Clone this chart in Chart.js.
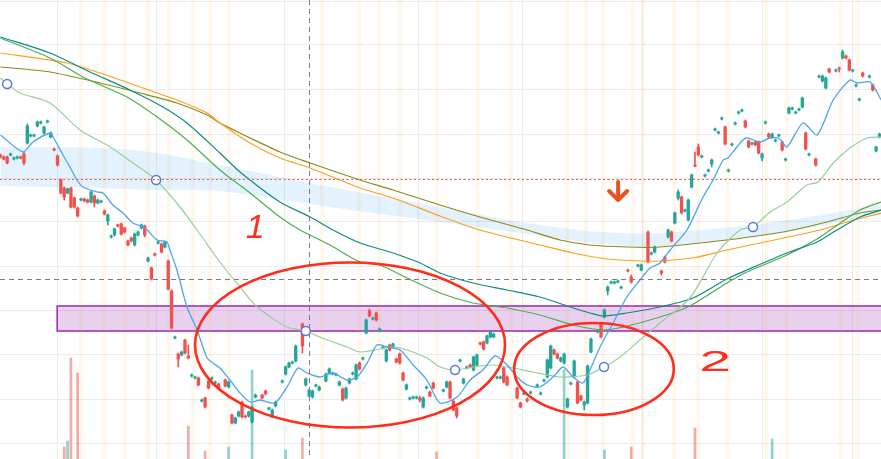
<!DOCTYPE html>
<html>
<head>
<meta charset="utf-8">
<script src="https://cdn.jsdelivr.net/npm/chart.js@4.4.0/dist/chart.umd.min.js"></script>
<style>
  html, body { margin: 0; padding: 0; background: #fff; }
  #wrap { width: 881px; height: 459px; position: relative; }
</style>
</head>
<body>
<div id="wrap"><canvas id="chart"></canvas></div>
<script>
// candles, one per bar index (null = no candle drawn)
const openP = [
  305,303,303,305,301,302,303,306,317,324,
  324,334,337,327,338,323,311,304,280,272,
  267,272,262,252,260,261,260,258,264,257,
  258,249,239,223,225,235,236,232,219,222,
  215,225,232,234,199,192,206,217,216,213,
  199,169,122,106,105,120,104,84,82,82,
  59,62,79,81,77,76,null,80,73,45,
  37,44,58,44,44,38,63,null,65,69,
  51,43,54,null,78,86,93,97,99,null,
  136,75,64,63,74,70,null,79,87,86,
  85,75,71,62,77,86,81,97,101,127,
  149,141,147,129,112,99,115,113,101,106,
  87,71,61,62,62,62,53,72,68,77,
  null,null,69,73,78,59,52,99,77,92,
  95,90,95,117,118,117,123,123,82,82,
  92,83,null,null,72,57,66,61,67,null,
  74,66,79,83,92,110,106,99,97,53,
  76,83,78,64,55,57,108,null,128,137,
  143,169,177,177,178,172,null,190,183,null,
  194,190,null,228,206,208,null,189,203,223,
  228,237,262,263,249,240,273,295,313,303,
  284,289,296,330,327,341,333,289,315,336,
  347,349,339,319,316,318,318,302,337,326,
  323,319,324,318,300,347,351,347,350,353,
  327,305,null,301,383,379,372,391,null,389,
  392,402,404,400,389,374,360,387,null,383,
  375,309,323
];
const highP = [
  306,304,304,307,303,304,304,308,336,326,
  326,339,339,334,340,328,312,305,281,273,
  272,273,263,253,262,262,261,269,265,261,
  260,250,246,225,232,236,237,233,220,223,
  227,229,236,235,203,193,207,219,217,219,
  200,170,124,107,109,121,115,86,84,83,
  61,63,80,83,79,77,null,81,79,46,
  43,49,59,45,49,54,66,null,66,70,
  53,51,59,null,80,94,98,99,115,null,
  137,82,71,70,76,74,null,87,92,88,
  87,79,72,73,82,88,96,98,103,141,
  151,143,148,132,114,111,116,117,102,107,
  88,76,63,64,64,64,63,74,69,78,
  null,null,71,79,79,60,53,101,82,94,
  96,104,106,118,119,125,129,127,84,84,
  93,84,null,null,73,58,68,62,69,null,
  76,68,81,101,115,111,107,103,107,62,
  78,100,79,65,59,95,122,null,130,138,
  151,174,179,179,180,174,null,191,185,null,
  196,196,null,229,208,214,null,190,204,231,
  229,248,270,264,251,261,286,308,316,305,
  286,291,301,332,329,343,334,291,317,338,
  349,351,340,320,318,319,319,307,339,327,
  327,321,326,319,302,353,353,349,352,363,
  328,307,null,302,385,385,383,392,null,391,
  393,410,405,401,391,376,362,388,null,385,
  376,314,327
];
const lowP = [
  302,300,296,304,300,301,301,295,316,323,
  323,333,336,326,337,322,309,294,266,260,
  266,252,252,243,259,258,257,257,253,256,
  257,245,235,222,224,233,225,227,214,218,
  214,224,231,223,198,180,204,216,207,212,
  170,131,121,93,104,106,101,83,81,74,
  58,52,71,80,76,71,null,73,72,36,
  36,43,42,42,43,37,62,null,61,65,
  50,42,53,null,77,85,92,96,98,null,
  107,74,63,62,73,69,null,78,86,85,
  84,74,59,61,76,85,80,90,100,126,
  143,140,139,128,111,98,109,112,97,96,
  79,70,60,61,61,58,52,71,63,71,
  null,null,68,72,61,49,42,98,76,91,
  92,89,94,115,110,116,122,122,81,81,
  77,74,null,null,61,52,65,58,66,null,
  73,65,78,82,91,105,101,98,96,52,
  75,82,56,59,50,56,107,null,127,122,
  142,165,176,176,177,171,null,188,177,null,
  193,189,null,197,205,207,null,185,197,222,
  218,236,260,246,248,239,272,293,304,302,
  283,288,293,329,326,340,315,288,314,335,
  346,348,332,312,315,314,306,299,336,322,
  322,318,323,309,299,346,350,346,349,352,
  310,304,null,294,382,378,371,387,null,388,
  388,401,401,389,388,373,359,383,null,382,
  369,308,322
];
const closeP = [
  303,301,297,306,302,303,302,297,334,325,
  325,338,338,333,339,327,310,295,267,263,
  271,253,253,244,261,259,258,268,257,260,
  259,246,245,224,231,234,226,228,215,219,
  226,228,235,225,202,181,205,218,208,218,
  171,132,123,101,108,107,102,85,83,75,
  60,53,72,82,78,72,null,74,78,37,
  42,48,43,43,48,53,65,null,62,66,
  52,50,58,null,79,93,97,98,114,null,
  114,81,70,69,75,73,null,86,91,87,
  86,78,60,72,81,87,95,91,102,140,
  144,142,140,131,113,110,110,116,98,97,
  80,75,62,63,63,60,62,73,64,72,
  null,null,70,78,62,50,44,100,81,93,
  93,103,105,116,111,124,128,126,83,83,
  78,75,null,null,62,53,67,59,68,null,
  75,67,80,100,114,106,102,102,106,61,
  77,99,57,60,58,94,121,null,129,123,
  150,173,178,178,179,173,null,189,178,null,
  195,195,null,198,207,213,null,187,198,230,
  219,247,268,247,250,260,285,294,305,304,
  285,290,300,331,328,342,316,290,316,337,
  348,350,333,313,317,315,307,306,338,323,
  326,320,325,310,301,352,352,348,351,362,
  311,306,null,295,384,384,382,388,null,390,
  391,408,402,390,390,375,361,384,null,384,
  370,313,326
];

// volume (k), only the bars that show above the bottom edge
const volIdx  = [19, 20, 21, 23, 56, 61, 68, 75, 85, 90, 130, 168, 180, 188, 207, 230];
const volume  = [120, 180, 1010, 860, 330, 80, 120, 890, 90, 210, 70, 890, 90, 120, 310, 200];
const volUp   = [0, 1, 0, 0, 0, 0, 1, 1, 1, 0, 0, 1, 1, 0, 0, 1];

// moving averages, [bar index, price]
const maFast = [[0,325],[6.7,308],[9.7,318],[14.8,327],[15.7,323],[18.3,307],[20.7,293],[22.8,280],[24.6,273],
  [28.8,268],[30.6,267],[33.5,255],[36.5,247],[39.5,237],[42.5,233],[43.7,230],[46.7,220],[49.6,218],[50.5,210],
  [52.6,190],[55.6,153],[58.6,130],[61.6,102],[63.3,97],[65.4,92],[68.4,80],[71.4,67],[74.4,58],[77.4,60],
  [81.8,57],[85.4,73],[88.7,92],[91.4,87],[95.2,83],[99.1,87],[103.3,80],[106.3,83],[109.3,97],[112.2,115],
  [115.2,113],[119.1,110],[123,95],[127.1,80],[131,57],[136.1,63],[140,80],[143.8,90],[147.4,104],[151,95],
  [154,83],[157,75],[160.8,73],[164.7,83],[167.7,93],[170.7,83],[173.6,77],[175.7,90],[178.7,113],[182.6,137],
  [186.7,163],[190.6,180],[193.6,192],[196.6,197],[199.6,210],[204.6,230],[209.4,263],[212.4,280],[215.4,300],
  [216.8,302],[219.5,313],[222.2,322],[226.4,318],[229.4,322],[232.3,321],[234.4,313],[239.2,337],[243.4,325],
  [248.2,360],[253.2,380],[255.3,377],[259.2,378],[262.5,360]];
const maSlow = [[0,382],[2,376],[5.8,367],[14.8,357],[23.7,330],[32.7,313],[39.5,297],[46.4,280],[53.5,253],
  [58.6,230],[65.4,198],[71.4,173],[76.5,153],[85.4,133],[91,129],[95.2,123],[103.3,113],[107.2,108],[113.1,111],
  [117,113],[121.2,110],[127.1,102],[131,93],[135.5,90],[140.8,93],[146.8,95],[152.8,92],[158.7,88],[166.8,83],
  [174.8,85],[179.9,93],[184.7,103],[190.6,120],[196.6,137],[205.5,162],[213.6,207],[220.4,230],[224.3,233],
  [229.4,248],[234.4,258],[240.4,275],[243.7,278],[248.2,297],[253.2,312],[258.3,322],[262.5,323]];
const maTeal = [[0,423],[14.8,407],[26.7,388],[38.6,370],[48.4,353],[55.6,337],[65.4,307],[71.4,288],[83.3,258],
  [92.3,243],[99.1,230],[107.2,217],[117,207],[125.1,197],[131,187],[140.8,177],[151,170],[160.8,163],[170.7,152],
  [175.7,147],[179.6,144],[186.7,147],[196.6,153],[206.4,162],[216.5,181],[222.5,190],[234.4,207],[243.4,218],
  [249.3,230],[256.2,243],[262.5,250]];
const maGreen = [[0,422],[14.8,402],[24.6,383],[37.7,363],[46.7,343],[55.6,320],[65.4,290],[74.4,267],[83.3,243],
  [89.3,230],[98.2,215],[107.2,198],[113.1,195],[121.2,182],[131,167],[140.8,157],[151,152],[160.8,145],[170.7,135],
  [179.6,130],[185.6,133],[196.6,143],[205.5,154],[216.5,177],[222.5,188],[234.4,205],[243.4,221],[247.3,230],
  [256.2,250],[262.5,258]];
const maOrange = [[0,407],[19.8,397],[29.7,387],[41.6,373],[52.6,360],[61.6,347],[65.4,337],[74.4,317],[83.3,302],
  [92.3,292],[107.2,272],[117,262],[131,244],[142.9,230],[160.8,215],[170.7,207],[180.8,201],[190.6,199],[196.6,199],
  [206.4,202],[216.5,210],[226.4,217],[236.2,224],[244.3,230],[252.3,238],[262.5,247]];
const maOlive = [[0,393],[14.8,388],[29.7,377],[41.6,367],[52.6,357],[61.6,345],[65.4,337],[74.4,322],[83.3,308],
  [92.3,297],[107.2,280],[117,270],[131,255],[142.9,243],[157,230],[166.8,220],[175.7,215],[186.7,213],[196.6,213],
  [216.5,220],[231.5,227],[236.2,230],[246.4,238],[256.2,247],[262.5,250]];
const markers = [[2,376],[46.4,280],[91,129],[135.5,90],[179.9,93],[224.3,233]];

// shaded band, upper and lower edge
const bandTop = [[0,313],[29.7,312],[44.6,308],[65.4,295],[98.2,273],[131,253],[154.9,238],[178.7,228],[196.6,227],[226.4,236],[262.5,255]];
const bandBot = [[0,274],[29.7,272],[44.6,270],[65.4,269],[98.2,253],[131,238],[154.9,227],[178.7,216],[196.6,214],[226.4,224],[262.5,245]];

// highlighted session columns and time grid
const eventIdx = [24, 30.9, 37.1, 44, 50.2, 57.4, 62.5, 68.1, 95.8, 106.9, 112.8, 119.1, 130.1, 142.3, 152.2,
  168.9, 174.5, 179.6, 188.5, 191.5, 200.8, 207.9, 216.8, 228.2, 234.4, 250.5, 255.6];
const gridX = [3.14, 30.86, 62.45, 106.87, 142.33, 168.86, 213.57, 240.4];
const gridY = [459, 415, 370, 326, 282, 238, 194, 150, 106, 61, 17];

// drawings
const dottedLevel = 281;
const dashedLevel = 181;
const crossIdx = 92;
const zone = { from: 16.9, top: 154, bottom: 129 };
const rings = [[104.2, 115, 46.2, 82.5], [176.9, 91, 23.8, 46]]; // idx, price, radius idx, radius price
const notes = [['1', 75.9, 231, 1], ['2', 213, 97, 2]];
const arrow = { idx: 184.1, from: 279, to: 259 };

const UP = '#26a69a', DOWN = '#ef5350';
const xy = arr => arr.map(([x, y]) => ({ x, y }));

const bodies = [], wicks = [], candleColors = [];
for (let i = 0; i < openP.length; i++) {
    if (openP[i] == null) continue;
    bodies.push({ x: i, y: [openP[i], closeP[i]] });
    wicks.push({ x: i, y: [lowP[i], highP[i]] });
    candleColors.push(closeP[i] >= openP[i] ? UP : DOWN);
}

const drawings = {
    id: 'drawings',
    beforeDatasetsDraw(chart) {
        const { ctx, scales: { x, y }, chartArea } = chart;
        // support zone
        const x0 = x.getPixelForValue(zone.from);
        const yt = y.getPixelForValue(zone.top), yb = y.getPixelForValue(zone.bottom);
        ctx.save();
        ctx.fillStyle = 'rgba(156,39,176,0.22)';
        ctx.fillRect(x0, yt, chartArea.right - x0, yb - yt);
        ctx.strokeStyle = '#9c27b0';
        ctx.lineWidth = 1.5;
        ctx.strokeRect(x0, yt, chartArea.right - x0 + 2, yb - yt);
        ctx.restore();
    },
    afterDatasetsDraw(chart) {
        const { ctx, scales: { x, y }, chartArea } = chart;
        ctx.save();
        // horizontal levels
        ctx.lineWidth = 1.2;
        ctx.strokeStyle = '#f05a4e';
        ctx.setLineDash([2, 2.5]);
        let py = Math.round(y.getPixelForValue(dottedLevel)) + 0.5;
        ctx.beginPath(); ctx.moveTo(chartArea.left, py); ctx.lineTo(chartArea.right, py); ctx.stroke();
        ctx.lineWidth = 1;
        ctx.strokeStyle = '#787b86';
        ctx.setLineDash([5, 4]);
        py = Math.round(y.getPixelForValue(dashedLevel)) + 0.5;
        ctx.beginPath(); ctx.moveTo(chartArea.left, py); ctx.lineTo(chartArea.right, py); ctx.stroke();
        const px = Math.round(x.getPixelForValue(crossIdx)) + 0.5;
        ctx.beginPath(); ctx.moveTo(px, chartArea.top); ctx.lineTo(px, chartArea.bottom); ctx.stroke();
        ctx.setLineDash([]);

        // hand drawn marks
        ctx.strokeStyle = '#ff2d1a';
        ctx.lineWidth = 2.6;
        rings.forEach(([ci, cp, ri, rp]) => {
            const cx = x.getPixelForValue(ci), cy = y.getPixelForValue(cp);
            const rx = x.getPixelForValue(ci + ri) - cx, ry = cy - y.getPixelForValue(cp + rp);
            ctx.beginPath();
            ctx.ellipse(cx, cy, rx, ry, 0, 0, Math.PI * 2);
            ctx.stroke();
        });
        ctx.fillStyle = '#ff2d1a';
        ctx.textAlign = 'center';
        ctx.textBaseline = 'middle';
        notes.forEach(([txt, ni, np, sx]) => {
            ctx.save();
            ctx.translate(x.getPixelForValue(ni), y.getPixelForValue(np));
            ctx.scale(sx === 2 ? 1.9 : 1, 1);
            ctx.font = sx === 2 ? '30px "Liberation Sans"' : 'italic 34px "Liberation Sans"';
            ctx.fillText(txt, 0, 0);
            ctx.restore();
        });

        // arrow
        const ax = x.getPixelForValue(arrow.idx);
        const a0 = y.getPixelForValue(arrow.from), a1 = y.getPixelForValue(arrow.to);
        ctx.strokeStyle = '#e8531e';
        ctx.lineWidth = 4;
        ctx.lineCap = 'round';
        ctx.lineJoin = 'round';
        ctx.beginPath(); ctx.moveTo(ax, a0 + 1); ctx.lineTo(ax, a1 - 2); ctx.stroke();
        ctx.beginPath(); ctx.moveTo(ax - 9, a1 - 10); ctx.lineTo(ax, a1 - 1); ctx.lineTo(ax + 9, a1 - 10); ctx.stroke();
        ctx.restore();
    }
};

document.addEventListener('DOMContentLoaded', () => {
    const lineDs = (data, color, order, width) => ({
        type: 'line', data: xy(data), borderColor: color, borderWidth: width || 1.2,
        pointRadius: 0, tension: 0.25, fill: false, order: order
    });

    new Chart(document.getElementById('chart'), {
        type: 'bar',
        data: {
            datasets: [
                {   // session columns
                    data: eventIdx.map(v => ({ x: v, y: [1, 460] })),
                    backgroundColor: 'rgba(255,152,0,0.08)', barThickness: 3, grouped: false, order: 20
                },
                {
                    type: 'line', data: xy(bandTop), borderWidth: 0, pointRadius: 0, tension: 0.3,
                    fill: '+1', backgroundColor: 'rgba(33,150,243,0.12)', order: 19
                },
                {
                    type: 'line', data: xy(bandBot), borderWidth: 0, pointRadius: 0, tension: 0.3,
                    fill: false, order: 18
                },
                {
                    data: volIdx.map((v, k) => ({ x: v, y: volume[k] })), yAxisID: 'yv',
                    backgroundColor: volUp.map(u => u ? 'rgba(38,166,154,0.5)' : 'rgba(239,83,80,0.5)'),
                    barThickness: 2, grouped: false, order: 17
                },
                { data: wicks, backgroundColor: candleColors, barThickness: 1, grouped: false, order: 12 },
                { data: bodies, backgroundColor: candleColors, barThickness: 2.7, grouped: false, order: 11 },
                lineDs(maOlive, '#8a8a1e', 9),
                lineDs(maOrange, '#ff9f1c', 8),
                lineDs(maGreen, '#4caf50', 7),
                lineDs(maTeal, '#0e8c84', 6),
                lineDs(maSlow, '#97d09a', 5),
                lineDs(maFast, '#4aa5f0', 4, 1.3),
                {
                    type: 'line', data: xy(markers), showLine: false, pointRadius: 4.5,
                    pointBackgroundColor: '#ffffff', pointBorderColor: '#5a78e0', pointBorderWidth: 1.5, order: 1
                }
            ]
        },
        options: {
            responsive: true,
            maintainAspectRatio: false,
            animation: false,
            layout: { padding: 0, autoPadding: false },
            plugins: { legend: { display: false }, tooltip: { enabled: false } },
            scales: {
                x: {
                    type: 'linear', min: -0.137, max: 262.45, offset: false,
                    ticks: { display: false }, border: { display: false },
                    grid: { color: '#ececec', drawTicks: false },
                    afterBuildTicks: axis => { axis.ticks = gridX.map(v => ({ value: v })); }
                },
                y: {
                    min: 1, max: 460,
                    ticks: { display: false }, border: { display: false },
                    grid: { color: '#ececec', drawTicks: false },
                    afterBuildTicks: axis => { axis.ticks = gridY.map(v => ({ value: v })); }
                },
                yv: { display: false, min: 0, max: 4590 }
            }
        },
        plugins: [drawings]
    });
});
</script>
</body>
</html>
